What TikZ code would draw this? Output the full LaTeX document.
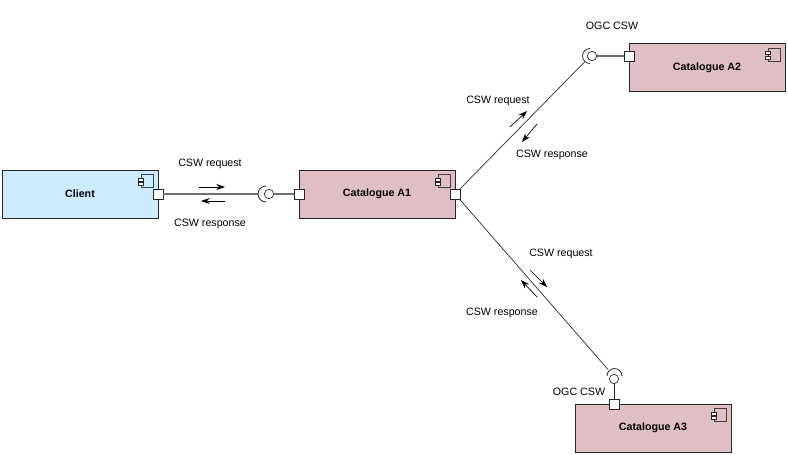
\documentclass[tikz,border=0pt]{standalone}
\usepackage{fontspec}
\setmainfont{Liberation Sans}
\usetikzlibrary{arrows.meta}
\definecolor{clientfill}{HTML}{CCEBFF}
\definecolor{catfill}{HTML}{DFBFC3}
\definecolor{wire}{HTML}{707070}
\tikzset{
  comp/.style={draw=black!85,line width=0.75pt,minimum width=117pt,minimum height=36pt,inner sep=0pt,font=\fontsize{8}{10}\selectfont\bfseries},
  portbox/.style={draw=black!85,fill=white,line width=0.6pt,minimum size=7.5pt,inner sep=0pt},
  ball/.style={draw=black!85,fill=white,line width=0.5pt,circle,minimum size=7pt,inner sep=0pt},
  lab/.style={font=\fontsize{8}{10}\selectfont,inner sep=0pt},
  assembly/.style={draw=wire,line width=0.85pt},
  longwire/.style={draw=black!80,line width=0.55pt},
  flow/.style={draw=black,line width=0.5pt,-{Stealth[length=6.5pt,width=4.5pt]}},
  socketarc/.style={draw=black!85,line width=0.6pt},
  pics/compicon/.style={code={
    \draw[draw=black!75,line width=0.75pt] (-17.5,5) rectangle (-5.5,18);
    \draw[draw=black!85,fill=white,line width=0.5pt] (-20.5,8.5) rectangle (-15.5,11.5);
    \draw[draw=black!85,fill=white,line width=0.5pt] (-20.5,13) rectangle (-15.5,16);
  }}
}
\begin{document}
\begin{tikzpicture}[x=0.75pt,y=-0.75pt]
\useasboundingbox (0,0) rectangle (788,454);

% component boxes
\node[comp,fill=clientfill] (client) at (80,194) {\raisebox{0.5pt}{Client}};
\node[comp,fill=catfill] (a1) at (377,194) {\raisebox{0.5pt}{Catalogue A1}};
\node[comp,fill=catfill] (a2) at (707,67.5) {Catalogue A2};
\node[comp,fill=catfill] (a3) at (653,428) {Catalogue A3};

% component icons in the upper right corners
\pic at (client.north east) {compicon};
\pic at (a1.north east) {compicon};
\pic at (a2.north east) {compicon};
\pic at (a3.north east) {compicon};

% provided-interface balls and socket anchor points
\node[ball] (b1) at (269,194) {};
\node[ball] (b2) at (592,56) {};
\node[ball] (b3) at (614,379) {};
\coordinate (s1) at (258,194);
\coordinate (s2) at (584.5,62);
\coordinate (s3) at (608,369.5);

% ports
\node[portbox] (pc) at (158,194) {};
\node[portbox] (pa1l) at (299,194) {};
\node[portbox] (pa1r) at (455,194) {};
\node[portbox] (pa2) at (629,56) {};
\node[portbox] (pa3) at (614,404) {};

% connectors
\draw[assembly] (pc) -- (s1);
\draw[assembly] (b1) -- (pa1l);
\draw[assembly] (b2) -- (pa2);
\draw[assembly,draw=black!85,line width=0.65pt] (b3) -- (pa3);
\draw[longwire] (pa1r) -- (s2);
\draw[longwire] (pa1r) -- (s3);

% sockets
\draw[socketarc] (266,186) arc[start angle=270,end angle=90,radius=8];
\draw[socketarc] (590,48.5) arc[start angle=270,end angle=90,radius=7.5];
\draw[socketarc] (607,376) arc[start angle=180,end angle=360,radius=7.5];

% flow arrows
\coordinate (f1a) at (199,187); \coordinate (f1b) at (225,187);
\coordinate (f2a) at (225,201); \coordinate (f2b) at (201,201);
\coordinate (f3a) at (510,127); \coordinate (f3b) at (527,111);
\coordinate (f4a) at (537,124); \coordinate (f4b) at (522,142);
\coordinate (f5a) at (530,270); \coordinate (f5b) at (547,287);
\coordinate (f6a) at (537,297); \coordinate (f6b) at (521,280);
\draw[flow] (f1a) -- (f1b);
\draw[flow] (f2a) -- (f2b);
\draw[flow] (f3a) -- (f3b);
\draw[flow] (f4a) -- (f4b);
\draw[flow] (f5a) -- (f5b);
\draw[flow] (f6a) -- (f6b);

% labels
\node[lab] (l1) at (210,164) {CSW request};
\node[lab] (l2) at (210,224) {CSW response};
\node[lab] (l3) at (612,26) {OGC CSW};
\node[lab] (l4) at (579,392) {OGC CSW};
\node[lab] (l5) at (498,101) {CSW request};
\node[lab] (l6) at (552,155) {CSW response};
\node[lab] (l7) at (561,254) {CSW request};
\node[lab] (l8) at (502,313) {CSW response};
\end{tikzpicture}
\end{document}
